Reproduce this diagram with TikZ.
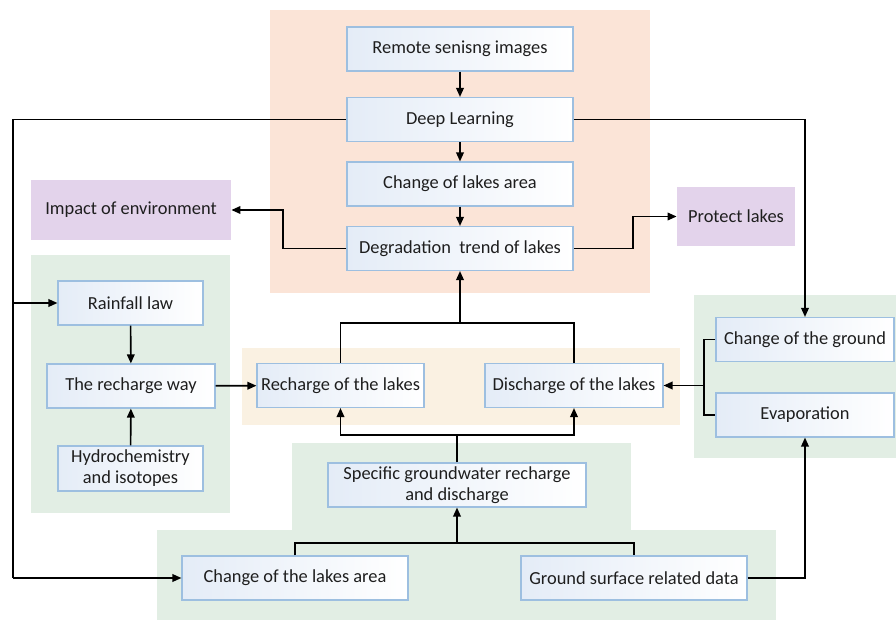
\documentclass[tikz,border=0pt]{standalone}
\usepackage{fontspec}
\setmainfont{Carlito}
\usepackage{tikz}
\usetikzlibrary{arrows.meta,calc}
\definecolor{ink}{HTML}{1E1E1E}
\definecolor{peach}{HTML}{FBE4D7}
\definecolor{mint}{HTML}{E2EEE4}
\definecolor{sand}{HTML}{FAF1E2}
\definecolor{lilac}{HTML}{E3D3EB}
\definecolor{edge}{HTML}{9DBFE0}
\definecolor{haze}{HTML}{E4ECF7}
\tikzset{
  box/.style={draw=edge, line width=0.55pt, left color=haze, right color=white,
              text=ink, align=center, inner sep=1pt, font=\fontsize{9.2}{10.5}\selectfont,
              minimum height=22pt},
  tag/.style={fill=lilac, text=ink, align=center, inner sep=1pt,
              font=\fontsize{9.2}{10.5}\selectfont},
  zone/.style={fill=#1},
  flow/.style={-{Triangle[length=4.5pt,width=3.8pt]}, line width=0.8pt, draw=black},
  link/.style={line width=0.8pt, draw=black}
}
\begin{document}
\begin{tikzpicture}[x=0.5pt,y=-0.5pt]
  \useasboundingbox (0,0) rectangle (896,621);
  % background zones
  \fill[zone=peach] (270,10) rectangle (650,293);
  \fill[zone=mint]  (31,255) rectangle (230,513);
  \fill[zone=sand]  (242,348) rectangle (680,425);
  \fill[zone=mint]  (694,295) rectangle (896,458);
  \fill[zone=mint]  (292,443) rectangle (631,531);
  \fill[zone=mint]  (157,530) rectangle (776,620);
  % central column
  \node[box, minimum width=113pt] (remote) at (460,49)    {Remote senisng images};
  \node[box, minimum width=113pt] (deep)   at (460,119.5) {Deep Learning};
  \node[box, minimum width=113pt] (area)   at (460,184)   {Change of lakes area};
  \node[box, minimum width=113pt] (degr)   at (460,248.5) {Degradation~ trend of lakes};
  \node[tag, minimum width=100pt, minimum height=30pt] (impact)  at (131,210)   {Impact of environment};
  \node[tag, minimum width=59pt, minimum height=29.5pt] (protect) at (736,216.5) {Protect lakes};
  % left group
  \node[box, minimum width=72.5pt] (rain)  at (130.5,303)   {Rainfall law};
  \node[box, minimum width=84pt]   (way)   at (131,386)     {The recharge way};
  \node[box, minimum width=72.5pt, minimum height=22.5pt] (hydro) at (130.5,468.5) {Hydrochemistry\\and isotopes};
  % lakes budget
  \node[box, minimum width=83.5pt] (rech)  at (340.5,385.5) {Recharge of the lakes};
  \node[box, minimum width=89pt]   (disch) at (574,385.5)   {Discharge of the lakes};
  % right group
  \node[box, minimum width=89pt] (ground) at (805,339.5) {Change of the ground};
  \node[box, minimum width=89pt] (evap)   at (805,415)   {Evaporation};
  % bottom
  \node[box, minimum width=129pt] (spec)    at (457,485) {Specific groundwater recharge\\and discharge};
  \node[box, minimum width=113pt] (lakechg) at (295,578) {Change of the lakes area};
  \node[box, minimum width=113pt] (surface) at (634,578) {Ground surface related data};
  % joints
  \coordinate (ltop) at (13,119.5);
  \coordinate (lmid) at (13,303);
  \coordinate (lbot) at (13,578);
  \coordinate (dl) at (283,248.5);
  \coordinate (dr) at (633,248.5);
  \coordinate (upjoin) at (460,323);
  \coordinate (midjoin) at (457,435);
  \coordinate (lowjoin) at (457,543);
  \coordinate (rjoin) at (704,385.5);
  % connectors
  \draw[flow] (remote) -- (deep);
  \draw[flow] (deep) -- (area);
  \draw[flow] (area) -- (degr);
  \draw[flow] (degr.west) -- (dl) |- (impact.east);
  \draw[flow] (degr.east) -- (dr) |- (protect.west);
  \draw[link] (deep.west) -- (ltop) -- (lbot);
  \draw[flow] (lbot) -- (lakechg.west);
  \draw[flow] (lmid) -- (rain.west);
  \draw[flow] (rain) -- (way);
  \draw[flow] (hydro) -- (way);
  \draw[flow] (way) -- (rech);
  \draw[link] (rech.north) |- (upjoin) -| (disch.north);
  \draw[flow] (upjoin) -- (degr.south);
  \draw[flow] (deep.east) -| (ground.north);
  \draw[link] (ground.west) -| (rjoin) |- (evap.west);
  \draw[flow] (rjoin) -- (disch.east);
  \draw[link] (spec.north) -- (midjoin);
  \draw[flow] (midjoin) -| (rech.south);
  \draw[flow] (midjoin) -| (disch.south);
  \draw[link] (lakechg.north) |- (lowjoin) -| (surface.north);
  \draw[flow] (lowjoin) -- (spec.south);
  \draw[flow] (surface.east) -| (evap.south);
\end{tikzpicture}
\end{document}
